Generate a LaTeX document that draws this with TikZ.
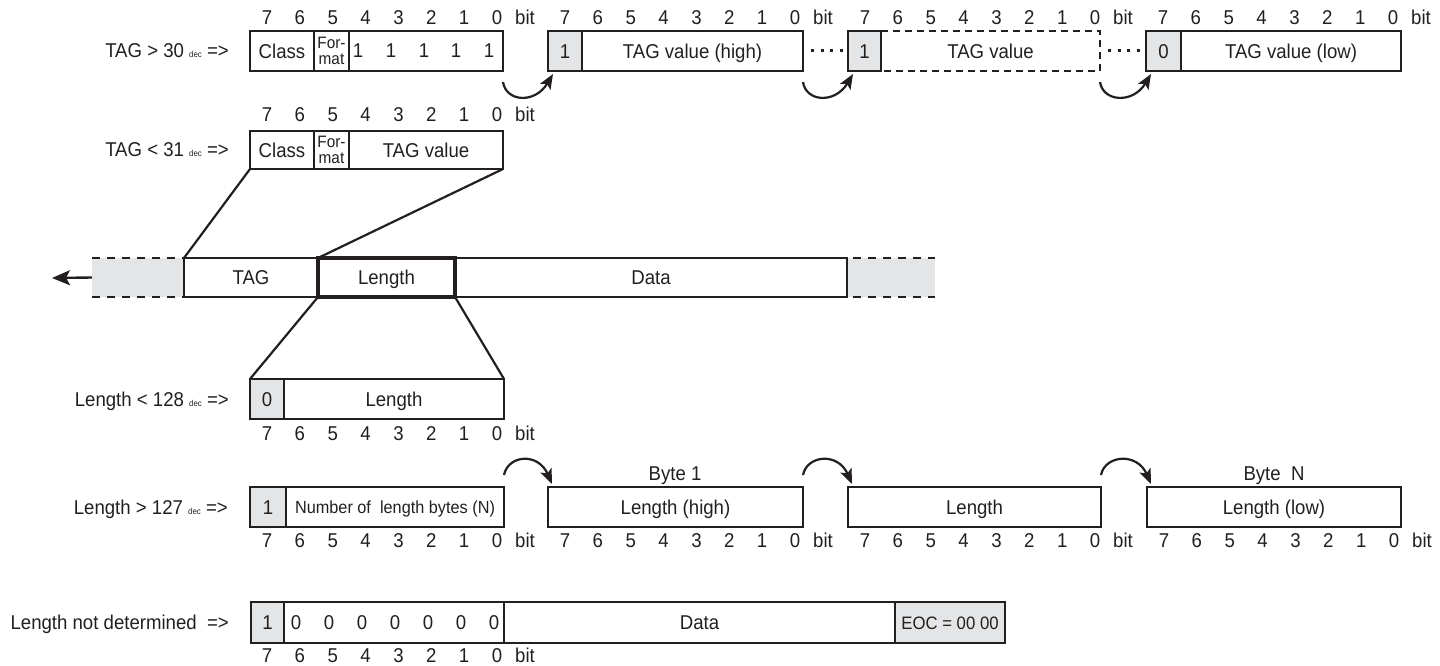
\documentclass[tikz,border=0pt]{standalone}
\usepackage{fontspec}
\setmainfont[FakeStretch=0.93]{Liberation Sans}
\usetikzlibrary{arrows.meta}
\definecolor{ink}{HTML}{231F20}
\definecolor{lg}{HTML}{E4E5E7}
% box cell: [style]{name}{x1}{y1}{x2}{y2}{text}
\newcommand{\mybx}[7][cellbox]{\node[#1,anchor=north west,minimum width={(#5-#3)*1pt},minimum height={(#6-#4)*1pt}] (#2) at (#3,#4) {#7};}
% bit numbers: {prefix}{x0}{baseline}
\newcommand{\mybits}[3]{%
  \foreach \i in {0,...,7}{\pgfmathtruncatemacro{\d}{7-\i}\node[dig] (#1d\i) at ({#2+17+\i*32.86},#3) {\d};}
  \node[dig] (#1bit) at ({#2+275},#3) {bit};}
\newcommand{\mydec}{{\fontsize{8.5}{8.5}\selectfont dec}}
\begin{document}
\begin{tikzpicture}[x=1pt,y=-1pt,
  font=\fontsize{20}{24}\selectfont,
  every node/.style={text=ink},
  cellbase/.style={draw=ink,line width=1.8pt,inner sep=0pt,outer sep=0pt},
  cellbox/.style={cellbase,text height=14.3pt,text depth=0pt},
  gcell/.style={fill=lg},
  nob/.style={draw=none},
  fmt/.style={cellbase,align=center,font=\fontsize{16.5}{16.5}\selectfont},
  frame/.style={draw=ink,line width=2.8pt},
  dig/.style={inner sep=0pt,anchor=base},
  lbl/.style={inner sep=0pt,anchor=base east},
  txt/.style={inner sep=0pt,anchor=base},
  dashln/.style={draw=ink,line width=2.4pt,dash pattern=on 7pt off 5pt},
  graydash/.style={draw=ink,line width=2.4pt,dash pattern=on 8pt off 7pt},
  dotln/.style={draw=ink,line width=3pt,dash pattern=on 3pt off 6.5pt},
  conn/.style={draw=ink,line width=2.2pt},
  carrow/.style={draw=ink,line width=2.2pt,-{Stealth[length=15pt,width=12pt,inset=3.5pt]}},
  larrow/.style={draw=ink,line width=2.4pt,-{Stealth[length=18pt,width=15pt,inset=4pt]}},
]
\useasboundingbox (0,0) rectangle (1440,666);

% ---------- Row 1: TAG > 30
\node[lbl] (lab1) at (229,58) {TAG > 30 \mydec{} =>};
\mybx{r1a}{250}{31}{314}{71}{Class}
\mybx[fmt]{r1b}{314}{31}{349}{71}{For-\\mat}
\mybx{r1c}{349}{31}{503}{71}{}
\foreach \x [count=\k] in {358,391,424,456,489} \node[txt] (one\k) at (\x,58) {1};
\draw[frame] (r1a.north west) rectangle (r1c.south east);
\mybits{ra}{250}{25}

\mybx[cellbox,gcell]{t2g}{548}{31}{582}{71}{1}
\mybx{t2}{582}{31}{803}{71}{TAG value (high)}
\draw[frame] (t2g.north west) rectangle (t2.south east);
\mybits{rb}{548}{25}

\mybx[cellbox,gcell]{t3g}{848}{31}{881}{71}{1}
\mybx[cellbox,nob]{t3}{881}{31}{1100}{71}{TAG value}
\draw[frame] (t3g.north west) rectangle (t3g.south east);
\draw[dashln] (t3g.north east) -- (t3.north east) -- (t3.south east) -- (t3g.south east);
\mybits{rc}{848}{25}

\mybx[cellbox,gcell]{t4g}{1146}{31}{1181}{71}{0}
\mybx{t4}{1181}{31}{1401}{71}{TAG value (low)}
\draw[frame] (t4g.north west) rectangle (t4.south east);
\mybits{rd}{1146}{25}

\draw[dotln] ([xshift=8pt]t2.east) -- ([xshift=-3pt]t3g.west);
\draw[dotln] ([xshift=8pt]t3.east) -- ([xshift=-3pt]t4g.west);

\draw[carrow] ([yshift=-11pt]r1c.south east) .. controls +(3,20) and +(-18,30) .. ([xshift=5pt,yshift=-3pt]t2g.south west);
\draw[carrow] ([yshift=-11pt]t2.south east) .. controls +(3,20) and +(-18,30) .. ([xshift=5pt,yshift=-3pt]t3g.south west);
\draw[carrow] ([yshift=-11pt]t3.south east) .. controls +(3,20) and +(-18,30) .. ([xshift=5pt,yshift=-3pt]t4g.south west);

% ---------- Row 2: TAG < 31
\node[lbl] (lab2) at (229,157) {TAG < 31 \mydec{} =>};
\mybx{r2a}{250}{131}{314}{169}{Class}
\mybx[fmt]{r2b}{314}{131}{349}{169}{For-\\mat}
\mybx{r2c}{349}{131}{503}{169}{TAG value}
\draw[frame] (r2a.north west) rectangle (r2c.south east);
\mybits{re}{250}{122}

% ---------- Middle stream
\mybx[cellbase,nob,fill=lg]{gl}{92}{258}{184}{297}{}
\mybx{tag}{184}{258}{318}{297}{TAG}
\mybx{len}{318}{258}{455}{297}{Length}
\mybx{dat}{455}{258}{847}{297}{Data}
\mybx[cellbase,nob,fill=lg]{gr}{847}{258}{935}{297}{}
\draw[frame] (tag.north west) rectangle (dat.south east);
\draw[draw=ink,line width=3.2pt] (len.north west) rectangle (len.south east);
\draw[graydash] (gl.north west) -- (gl.north east);
\draw[graydash] (gl.south west) -- (gl.south east);
\draw[graydash] ([xshift=6pt]gr.north west) -- (gr.north east);
\draw[graydash] ([xshift=6pt]gr.south west) -- (gr.south east);
\coordinate (atip) at (52,278);
\draw[larrow] (gl.west) -- (atip);

% ---------- Length < 128
\node[lbl] (lab3) at (229,406) {Length < 128 \mydec{} =>};
\mybx[cellbox,gcell]{s1g}{250}{379}{284}{419}{0}
\mybx{s1}{284}{379}{504}{419}{Length}
\draw[frame] (s1g.north west) rectangle (s1.south east);
\mybits{rf}{250}{440}

% connectors
\draw[conn] (r2a.south west) -- (tag.north west);
\draw[conn] (r2c.south east) -- (len.north west);
\draw[conn] (len.south west) -- (s1g.north west);
\draw[conn] (len.south east) -- (s1.north east);

% ---------- Length > 127
\node[lbl] (lab4) at (228,514) {Length > 127 \mydec{} =>};
\mybx[cellbox,gcell]{m1g}{250}{487}{286}{527}{1}
\mybx[cellbase,font=\fontsize{17.5}{20}\selectfont,text height=12.5pt,text depth=0pt]{m1}{286}{487}{504}{527}{Number of\ \ length bytes (N)}
\draw[frame] (m1g.north west) rectangle (m1.south east);
\mybits{rg}{250}{547}

\mybx[cellbox,frame]{m2}{548}{487}{803}{527}{Length (high)}
\mybits{rh}{548}{547}
\mybx[cellbox,frame]{m3}{848}{487}{1101}{527}{Length}
\mybits{ri}{848}{547}
\mybx[cellbox,frame]{m4}{1147}{487}{1401}{527}{Length (low)}
\mybits{rj}{1147}{547}
\node[txt] (byte1) at (675,480) {Byte 1};
\node[txt] (byten) at (1274,480) {Byte\ \ N};

\draw[carrow] ([yshift=12pt]m1.north east) .. controls +(4,-20) and +(-14,-32) .. ([xshift=4pt,yshift=3pt]m2.north west);
\draw[carrow] ([yshift=12pt]m2.north east) .. controls +(4,-20) and +(-14,-32) .. ([xshift=4pt,yshift=3pt]m3.north west);
\draw[carrow] ([yshift=12pt]m3.north east) .. controls +(4,-20) and +(-14,-32) .. ([xshift=4pt,yshift=3pt]m4.north west);

% ---------- Length not determined
\node[lbl] (lab5) at (229,629.5) {Length not determined\ \ =>};
\mybx[cellbox,gcell]{n1g}{251}{602}{284}{643}{1}
\mybx{n1}{284}{602}{504}{643}{}
\foreach \x [count=\k] in {296,329,362,395,428,461,494} \node[txt] (zero\k) at (\x,629.5) {0};
\mybx{n2}{504}{602}{895}{643}{Data}
\mybx[cellbox,gcell,font=\fontsize{18}{20}\selectfont]{n3}{895}{602}{1005}{643}{EOC = 00 00}
\draw[frame] (n1g.north west) rectangle (n3.south east);
\mybits{rk}{250}{662}
\end{tikzpicture}
\end{document}
